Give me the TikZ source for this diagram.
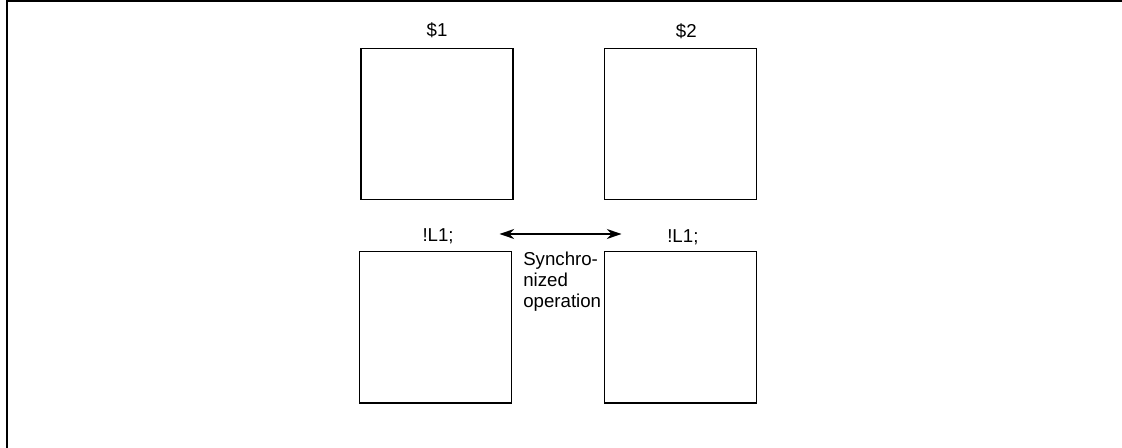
\documentclass[tikz,border=0pt]{standalone}
\usepackage{fontspec}
\setmainfont{Liberation Sans}
\usetikzlibrary{arrows.meta,positioning}

\begin{document}
\begin{tikzpicture}[
  x=0.75pt, y=-0.75pt,
  every node/.style={font=\fontsize{14}{15.75}\selectfont},
  sysbox/.style={draw=black, line width=1pt, inner sep=0pt,
                 minimum width=114pt, minimum height=113.5pt},
  sysname/.style={anchor=base, inner sep=0pt},
  arr/.style={{Stealth[length=11pt,width=7.5pt,inset=3.5pt]}-{Stealth[length=11pt,width=7.5pt,inset=3.5pt]},
              line width=1pt},
  node distance=38pt and 67.5pt
]
\useasboundingbox (0,0) rectangle (1122,448);
\draw[line width=1.6pt] (7,448) -- (7,0.85) -- (1122,0.85);

% systems
\node[sysbox] (s1) at (437,124) {};
\node[sysbox, right=of s1] (s2) {};
\node[sysbox, below=of s1, xshift=-1pt] (l1) {};
\node[sysbox, below=of s2] (l2) {};

\node[sysname] (s1name) at ([yshift=8.6pt]s1.north) {\$1};
\node[sysname] (s2name) at ([yshift=7.5pt, xshift=4.5pt]s2.north) {\$2};
\node[sysname] (l1name) at ([yshift=7.2pt, xshift=1.8pt]l1.north) {!L1;};
\node[sysname] (l2name) at ([yshift=6.5pt, xshift=1.9pt]l2.north) {!L1;};

% synchronized operation
\coordinate (syncL) at (499.5,234);
\coordinate (syncR) at (621.5,234);
\draw[arr] (syncL) -- (syncR);
\node[anchor=north west, align=left, inner sep=0pt] (syncop) at (523,251.5)
  {Synchro-\\nized\\operation};
\end{tikzpicture}
\end{document}
